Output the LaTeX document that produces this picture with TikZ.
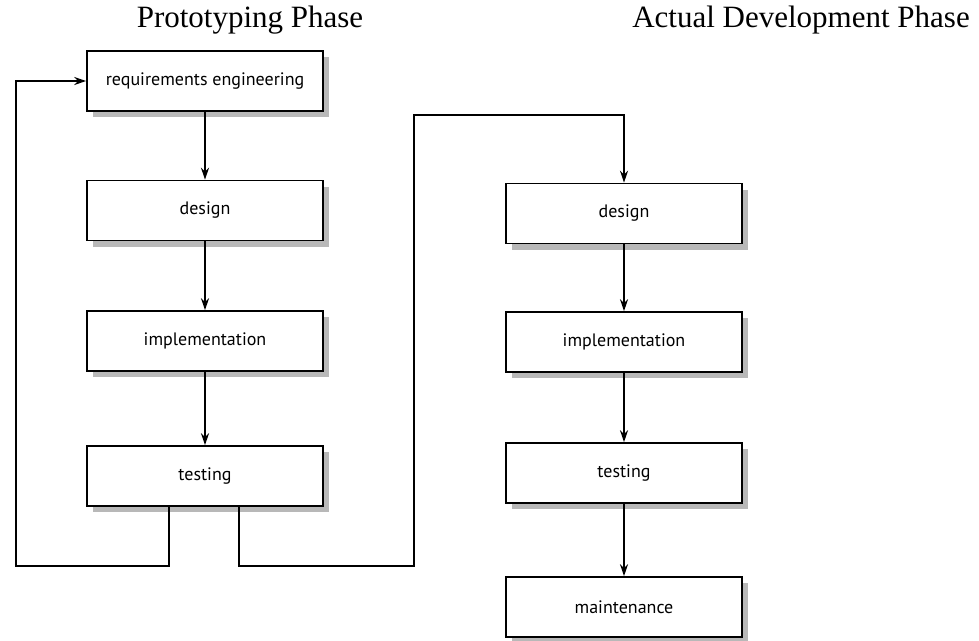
\documentclass[tikz,border=0pt]{standalone}
\usepackage{fontspec}
\setmainfont{Liberation Serif}
\newfontfamily\boxfont{PT Sans}
\usetikzlibrary{arrows.meta,positioning,shadows}
\tikzset{phasebox/.style={draw=black,line width=1.6pt,fill=white,minimum width=236pt,minimum height=60pt,
    inner sep=0pt,font=\boxfont\fontsize{18}{21}\selectfont,
    drop shadow={shadow xshift=6pt,shadow yshift=-6pt,fill=black!28,opacity=1}}}
\tikzset{flow/.style={-{Stealth[length=12pt,width=8pt]},line width=1.5pt}}
\begin{document}
\begin{tikzpicture}[x=1pt,y=-1pt]
\useasboundingbox (0,0) rectangle (979,640);
% titles
\node (ptitle) [font=\fontsize{31}{36}\selectfont] at (250,20) {Prototyping Phase};
\node (atitle) [font=\fontsize{31}{36}\selectfont] at (801,20) {Actual Development Phase};
% prototyping phase
\node (preq) [phasebox] at (205,81) {requirements engineering};
\node (pdes) [phasebox] at (205,210.5) {design};
\node (pimp) [phasebox] at (205,341) {implementation};
\node (ptest) [phasebox] at (205,476) {testing};
% actual development phase
\node (ades) [phasebox] at (624,213.5) {design};
\node (aimp) [phasebox] at (624,342) {implementation};
\node (atest) [phasebox] at (624,473) {testing};
\node (amaint) [phasebox] at (624,607) {maintenance};
%
\path[flow] (preq) edge (pdes);
\path[flow] (pdes) edge (pimp);
\path[flow] (pimp) edge (ptest);
\path[flow] (ades) edge (aimp);
\path[flow] (aimp) edge (atest);
\path[flow] (atest) edge (amaint);
% back to requirements, and on to development
\coordinate (cornerL) at (16,566);
\coordinate (cornerR) at (414,566);
\coordinate (topR) at (414,115);
\draw[flow] ([xshift=-36pt]ptest.south) |- (cornerL) |- (preq.west);
\draw[flow] ([xshift=34pt]ptest.south) |- (cornerR) -- (topR) -| (ades.north);
\end{tikzpicture}
\end{document}
